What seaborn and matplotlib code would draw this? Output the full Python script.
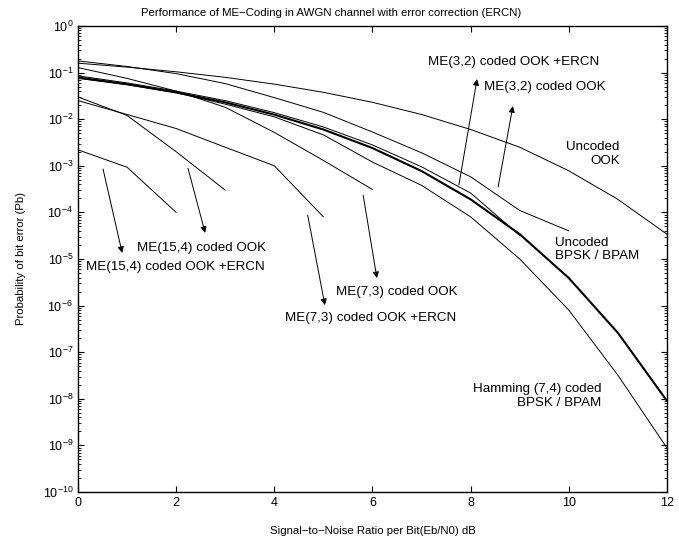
import matplotlib
matplotlib.use("Agg")
import matplotlib.pyplot as plt
from matplotlib.ticker import LogLocator, NullFormatter
import numpy as np
import pandas as pd
import seaborn as sns

# Curves (Eb/N0 in dB -> bit error probability)
snr_full = [0, 1, 2, 3, 4, 5, 6, 7, 8, 9, 10, 11, 12]
uncoded_ook = [0.159, 0.131, 0.104, 0.079, 0.0565, 0.0377, 0.023, 0.0126, 0.006, 0.0025, 7.8e-4, 1.9e-4, 3.4e-5]
uncoded_bpsk = [0.0786, 0.0563, 0.0375, 0.0229, 0.0125, 0.006, 0.0024, 7.7e-4, 1.9e-4, 3.4e-5, 3.9e-6, 2.6e-7, 9e-9]
hamming_bpsk = [0.075, 0.055, 0.037, 0.021, 0.0112, 0.0046, 0.0012, 3.8e-4, 8e-5, 1e-5, 8e-7, 3.2e-8, 8.8e-10]

snr_me32 = [0, 1, 2, 3, 4, 5, 6, 7, 8, 9, 10]
me32_ook = [0.178, 0.135, 0.095, 0.058, 0.029, 0.014, 0.0053, 0.0019, 5.8e-4, 1.1e-4, 4e-5]
snr_me32_ercn = [0, 1, 2, 3, 4, 5, 6, 7, 8, 9]
me32_ercn = [0.085, 0.06, 0.04, 0.025, 0.0138, 0.0068, 0.0028, 9.5e-4, 2.6e-4, 3.2e-5]

snr_me73 = [0, 1, 2, 3, 4, 5, 6]
me73_ook = [0.128, 0.075, 0.04, 0.018, 0.0052, 0.0013, 3.1e-4]
snr_me73_ercn = [0, 1, 2, 3, 4, 5]
me73_ercn = [0.025, 0.0126, 0.0063, 0.0025, 1e-3, 8e-5]

snr_me154 = [0, 1, 2, 3]
me154_ook = [0.030, 0.012, 0.002, 3e-4]
snr_me154_ercn = [0, 1, 2]
me154_ercn = [0.0022, 9.3e-4, 1e-4]

curves = [
    (snr_full, uncoded_ook, 0.7),
    (snr_me32, me32_ook, 0.7),
    (snr_me32_ercn, me32_ercn, 0.7),
    (snr_full, uncoded_bpsk, 1.5),
    (snr_full, hamming_bpsk, 0.7),
    (snr_me73, me73_ook, 0.7),
    (snr_me73_ercn, me73_ercn, 0.7),
    (snr_me154, me154_ook, 0.7),
    (snr_me154_ercn, me154_ercn, 0.7),
]

# text labels: (text, x, y, ha)
labels = [
    ("ME(3,2) coded OOK +ERCN", 8.88, 10**-0.77, "center"),
    ("ME(3,2) coded OOK", 9.51, 10**-1.31, "center"),
    ("Uncoded\nOOK", 11.04, 10**-2.75, "right"),
    ("Uncoded\nBPSK / BPAM", 9.72, 10**-4.8, "left"),
    ("Hamming (7,4) coded\nBPSK / BPAM", 10.67, 10**-7.94, "right"),
    ("ME(15,4) coded OOK", 2.51, 10**-4.76, "center"),
    ("ME(15,4) coded OOK +ERCN", 1.98, 10**-5.17, "center"),
    ("ME(7,3) coded OOK", 6.5, 10**-5.71, "center"),
    ("ME(7,3) coded OOK +ERCN", 5.97, 10**-6.27, "center"),
]

# arrows: (tail x, tail y, head x, head y)
arrows = [
    (0.51, 10**-3.07, 0.90, 10**-4.87),
    (2.24, 10**-3.05, 2.59, 10**-4.44),
    (4.68, 10**-4.06, 5.03, 10**-5.99),
    (5.81, 10**-3.63, 6.09, 10**-5.41),
    (7.76, 10**-3.41, 8.13, 10**-1.14),
    (8.56, 10**-3.45, 8.86, 10**-1.72),
]

sns.set_style("ticks")
plt.rcParams["font.family"] = ["Liberation Sans", "DejaVu Sans"]
plt.rcParams["mathtext.fontset"] = "custom"
plt.rcParams["mathtext.rm"] = "Liberation Sans"
for key in ["text.color", "axes.labelcolor", "xtick.color", "ytick.color", "axes.edgecolor"]:
    plt.rcParams[key] = "black"

fig = plt.figure(figsize=(6.79, 5.4), dpi=100)
ax = fig.add_axes([0.1149, 0.0889, 0.8674, 0.863])

for xs, ys, lw in curves:
    df = pd.DataFrame({"snr": xs, "pb": ys})
    sns.lineplot(data=df, x="snr", y="pb", color="black", linewidth=lw, ax=ax, estimator=None)

for txt, x, y, ha in labels:
    ax.text(x, y, txt, ha=ha, va="center", multialignment=ha, fontsize=9.6, linespacing=1.15)

for x0, y0, x1, y1 in arrows:
    ax.annotate("", xy=(x1, y1), xytext=(x0, y0),
                arrowprops=dict(arrowstyle="-|>", color="black", lw=0.7,
                                mutation_scale=9, shrinkA=0, shrinkB=0))

ax.set_yscale("log")
ax.set_xlim(0, 12)
ax.set_ylim(1e-10, 1)
ax.set_xticks([0, 2, 4, 6, 8, 10, 12])
ax.yaxis.set_major_locator(LogLocator(base=10, numticks=20))
ax.yaxis.set_minor_locator(LogLocator(base=10, subs=np.arange(2, 10), numticks=200))
ax.yaxis.set_minor_formatter(NullFormatter())
ax.tick_params(which="both", direction="in", top=True, right=True, labelsize=9)
ax.tick_params(which="major", length=4, width=0.8)
ax.tick_params(which="minor", length=2, width=0.6)
for s in ax.spines.values():
    s.set_linewidth(1.0)
ax.xaxis.get_offset_text().set_visible(False)
ax.yaxis.get_offset_text().set_visible(False)

ax.set_title("Performance of ME\u2212Coding in AWGN channel with error correction (ERCN)",
             fontsize=8.2, pad=7, x=0.43)
ax.set_xlabel("Signal\u2212to\u2212Noise Ratio per Bit(Eb/N0) dB", fontsize=8.2, labelpad=12)
ax.set_ylabel("Probability of bit error (Pb)", fontsize=8.2, labelpad=12)

fig.savefig("out.png", dpi=100)
